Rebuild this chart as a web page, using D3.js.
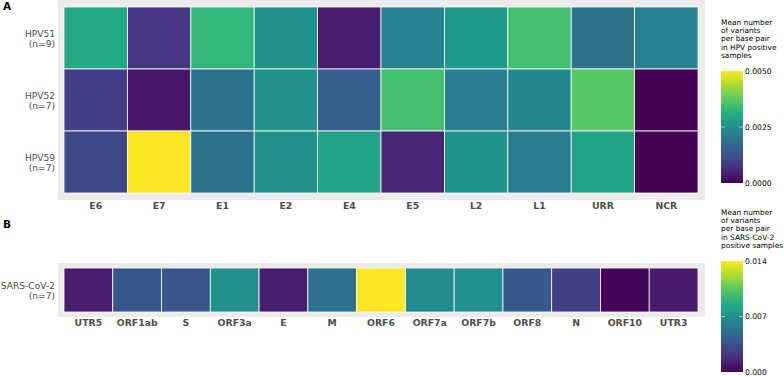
<!DOCTYPE html>
<html>
<head>
<meta charset="utf-8">
<script src="https://cdn.jsdelivr.net/npm/d3@7"></script>
<style>
	body { margin: 0; background: #fff; }
	svg { font-family: "DejaVu Sans", sans-serif; display: block; }
</style>
</head>
<body>
<svg id="chart" width="784" height="377"></svg>
<script>
const hpvGenes = ['E6', 'E7', 'E1', 'E2', 'E4', 'E5', 'L2', 'L1', 'URR', 'NCR'];
const hpvTypes = ['HPV51', 'HPV52', 'HPV59'];
const hpvN = [9, 7, 7];
const hpv51 = [0.0030, 0.0008, 0.0033, 0.0025, 0.0004, 0.0022, 0.0027, 0.0035, 0.0019, 0.0022];
const hpv52 = [0.0009, 0.0003, 0.0019, 0.0025, 0.0015, 0.0035, 0.0021, 0.0023, 0.0037, 0.0000];
const hpv59 = [0.0011, 0.0050, 0.0019, 0.0025, 0.0029, 0.0005, 0.0026, 0.0021, 0.0029, 0.0000];
const hpvTicks = [0, 0.0025, 0.005];

const sarsGenes = ['UTR5', 'ORF1ab', 'S', 'ORF3a', 'E', 'M', 'ORF6', 'ORF7a', 'ORF7b', 'ORF8', 'N', 'ORF10', 'UTR3'];
const sarsN = 7;
const sarsValues = [0.0011, 0.0038, 0.0037, 0.0070, 0.0012, 0.0053, 0.0140, 0.0067, 0.0069, 0.0039, 0.0026, 0.0002, 0.0010];
const sarsTicks = [0, 0.007, 0.014];

const svg = d3.select('#chart');
const textGrey = '#4d4d4d';

function heatPanel({top, bottom, pad, rows, rowLabels, cols, values, domain}) {
	const g = svg.append('g');
	const x = d3.scaleBand().domain(cols).range([64, 698]);
	const y = d3.scaleBand().domain(rows).range([top, bottom]);
	const color = d3.scaleSequential(d3.interpolateViridis).domain(domain);

	g.append('rect')
		.attr('x', 58).attr('y', top - pad)
		.attr('width', 647).attr('height', bottom - top + 2 * pad)
		.attr('fill', '#ebebeb');

	const cells = [];
	rows.forEach((r, i) => cols.forEach((c, j) => cells.push({r, c, v: values[i][j]})));
	g.selectAll('rect.cell')
		.data(cells)
		.join('rect')
		.classed('cell', true)
		.attr('x', d => x(d.c))
		.attr('y', d => y(d.r))
		.attr('width', x.bandwidth())
		.attr('height', y.bandwidth())
		.attr('fill', d => color(d.v))
		.attr('stroke', '#fff')
		.attr('stroke-width', 0.8);

	const xAxis = g.append('g')
		.attr('transform', `translate(0,${bottom + pad})`)
		.call(d3.axisBottom(x).tickSize(0).tickPadding(2.5));
	xAxis.select('.domain').remove();
	xAxis.selectAll('text')
		.attr('fill', textGrey)
		.attr('font-size', 9.3)
		.attr('font-weight', 'bold')
		.attr('font-family', '"DejaVu Sans", sans-serif');

	const yAxis = g.append('g')
		.attr('transform', 'translate(57,0)')
		.call(d3.axisLeft(y).tickSize(0).tickPadding(2).tickFormat(() => ''));
	yAxis.select('.domain').remove();
	yAxis.selectAll('.tick text').each(function(d, i) {
		const t = d3.select(this)
			.attr('fill', textGrey)
			.attr('font-size', 9.1)
			.attr('font-family', '"DejaVu Sans", sans-serif')
			.attr('dy', null);
		t.append('tspan').attr('x', -2).attr('dy', '-0.15em').attr('fill', textGrey).text(d);
		t.append('tspan').attr('x', -2).attr('dy', '1.12em').attr('fill', textGrey).text(rowLabels[i]);
	});
	return color;
}

function colorbar({title, top, bottom, domain, ticks, fmt}) {
	const g = svg.append('g');
	const x0 = 721, w = 22;
	title.forEach((line, i) => {
		g.append('text')
			.attr('x', x0).attr('y', top - 46 + i * 8.2)
			.attr('font-size', 7.4)
			.attr('fill', '#000')
			.text(line);
	});
	const id = 'grad' + top;
	const grad = svg.append('defs').append('linearGradient')
		.attr('id', id).attr('x1', 0).attr('y1', 1).attr('x2', 0).attr('y2', 0);
	d3.range(0, 1.0001, 0.1).forEach(t => {
		grad.append('stop').attr('offset', t).attr('stop-color', d3.interpolateViridis(t));
	});
	g.append('rect')
		.attr('x', x0).attr('y', top)
		.attr('width', w).attr('height', bottom - top)
		.attr('fill', `url(#${id})`);
	const s = d3.scaleLinear().domain(domain).range([bottom, top]);
	const axis = g.append('g')
		.attr('transform', `translate(${x0 + w},0)`)
		.call(d3.axisRight(s).tickValues(ticks).tickSize(0).tickPadding(2).tickFormat(fmt));
	axis.select('.domain').remove();
	axis.selectAll('text').attr('font-size', 7.6).attr('fill', '#000').attr('font-family', '"DejaVu Sans", sans-serif');
	g.selectAll('line.mid')
		.data(ticks.slice(1, -1))
		.join(enter => {
			const e = enter.append('g');
			e.append('line').attr('x1', x0).attr('x2', x0 + 4).attr('y1', s).attr('y2', s);
			e.append('line').attr('x1', x0 + w - 4).attr('x2', x0 + w).attr('y1', s).attr('y2', s);
			return e;
		})
		.selectAll('line')
		.attr('stroke', '#fff').attr('stroke-width', 0.8).attr('opacity', 0.7);
}

// panel A
heatPanel({
	top: 7, bottom: 193, pad: 7,
	rows: hpvTypes,
	rowLabels: hpvN.map(n => `(n=${n})`),
	cols: hpvGenes,
	values: [hpv51, hpv52, hpv59],
	domain: [0, 0.005],
});
svg.append('text').attr('x', 3).attr('y', 10).attr('font-size', 10.5).attr('font-weight', 'bold').text('A');
colorbar({
	title: ['Mean number', 'of variants', 'per base pair', 'in HPV positive', 'samples'],
	top: 71, bottom: 183,
	domain: [0, 0.005],
	ticks: hpvTicks,
	fmt: d3.format('.4f'),
});

// panel B
heatPanel({
	top: 268, bottom: 312, pad: 5,
	rows: ['SARS-CoV-2'],
	rowLabels: [`(n=${sarsN})`],
	cols: sarsGenes,
	values: [sarsValues],
	domain: [0, 0.014],
});
svg.append('text').attr('x', 3).attr('y', 228).attr('font-size', 10.5).attr('font-weight', 'bold').text('B');
colorbar({
	title: ['Mean number', 'of variants', 'per base pair', 'in SARS-CoV-2', 'positive samples'],
	top: 261, bottom: 372,
	domain: [0, 0.014],
	ticks: sarsTicks,
	fmt: d3.format('.3f'),
});
</script>
</body>
</html>
